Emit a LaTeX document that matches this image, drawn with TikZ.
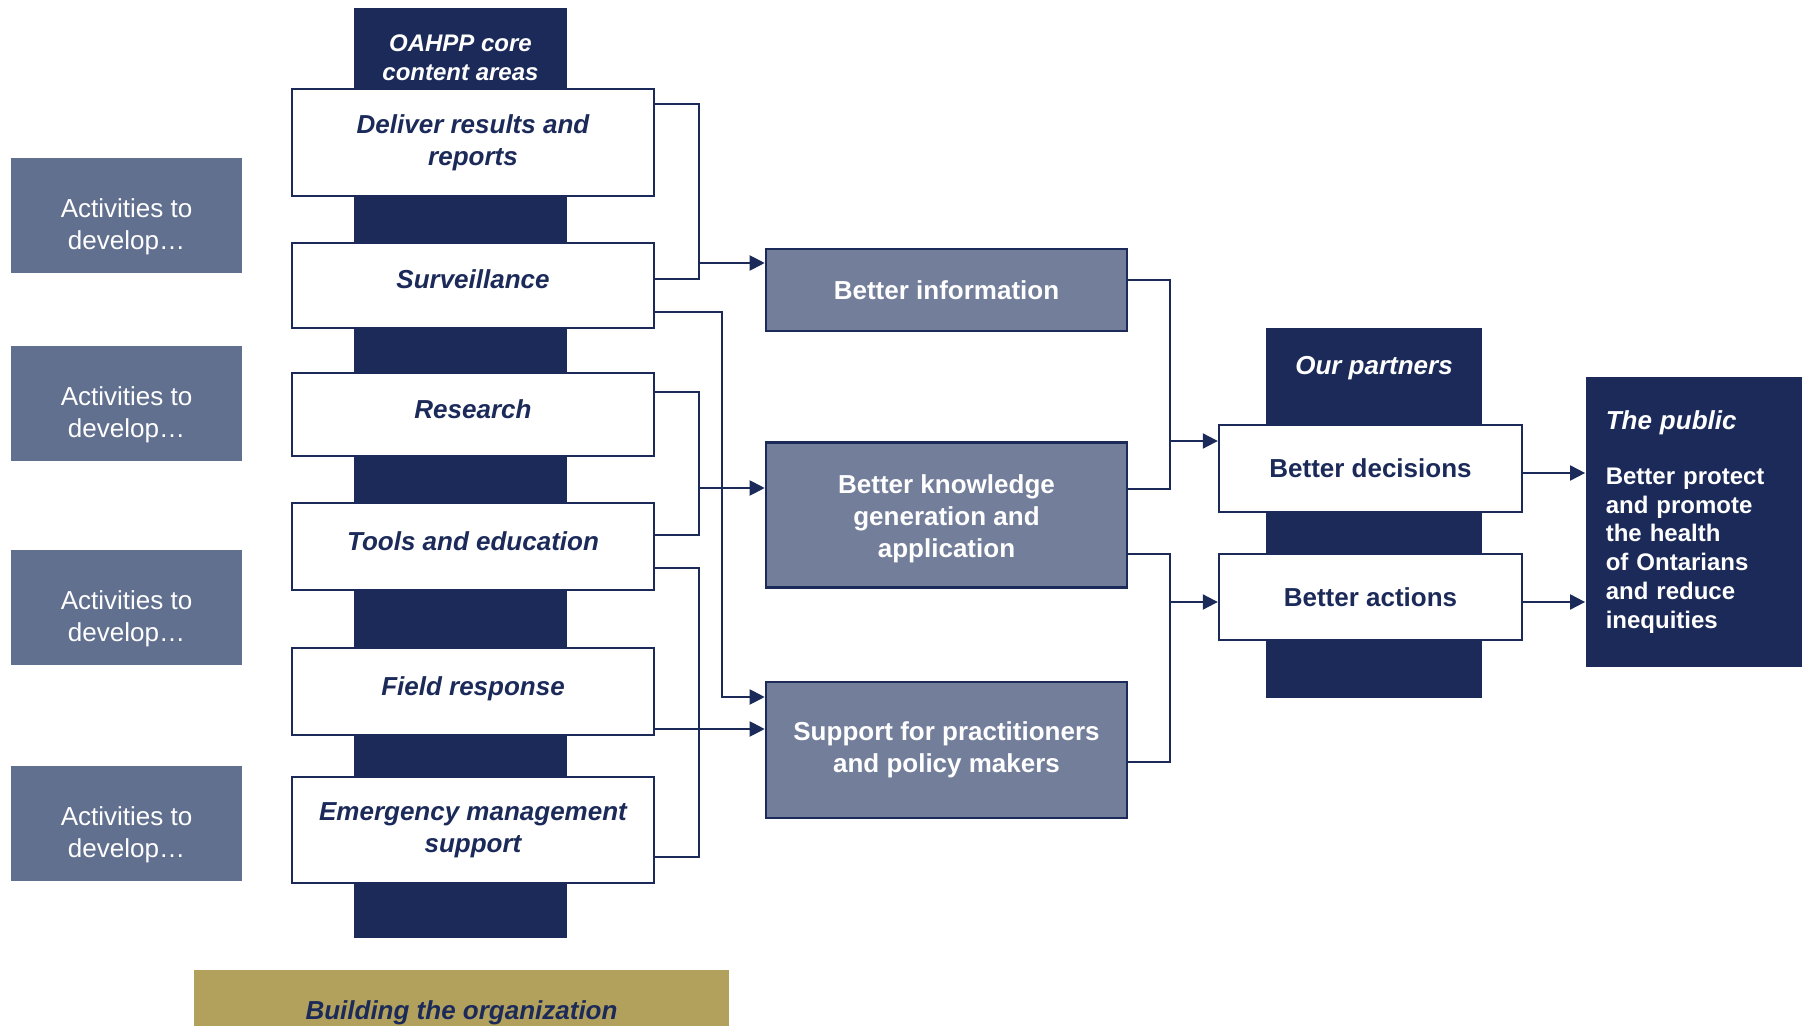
\documentclass[tikz,border=0pt]{standalone}
\usepackage{fontspec}
\setmainfont{Liberation Sans}
\usepackage{tikz}
\usetikzlibrary{arrows.meta}
\definecolor{navy}{RGB}{27,42,89}
\definecolor{slate}{RGB}{98,112,144}
\definecolor{midgray}{RGB}{115,126,155}
\definecolor{gold}{RGB}{178,161,92}
\def\activities{\rule{0pt}{21pt}Activities to\\develop…}
\tikzset{
	area/.style={draw=navy, line width=1.2pt, fill=white, text=navy, font=\fontsize{13}{16}\selectfont\bfseries\itshape, minimum width=181pt, align=center, inner sep=0pt},
	oneline/.style={text height=9.5pt, text depth=6pt},
	actbox/.style={fill=slate, text=white, font=\fontsize{13}{16}\selectfont, minimum width=115.5pt, minimum height=57.5pt, align=center, inner sep=0pt},
	outcome/.style={draw=navy, line width=1.3pt, fill=midgray, text=white, font=\fontsize{13}{16}\selectfont\bfseries, minimum width=180.5pt, align=center, inner sep=0pt},
	partner/.style={draw=navy, line width=1.2pt, fill=white, text=navy, font=\fontsize{13}{16}\selectfont\bfseries, minimum width=151.5pt, align=center, inner sep=0pt},
	hdr/.style={text=white, font=\fontsize{13}{16}\selectfont\bfseries\itshape, align=center, inner sep=0pt},
	conn/.style={draw=navy, line width=1pt},
	arr/.style={conn, -{Triangle[length=7.5pt,width=7.5pt]}}
}
\begin{document}
\begin{tikzpicture}[x=0.5pt, y=-0.5pt]
			%%%%% START %%%%%
			
			\path[use as bounding box] (0,0) rectangle (1802,1026);
			\clip (0,0) rectangle (1802,1026);
			
			\fill[navy] (354, 8) rectangle (567, 938);
			\node[hdr, font=\fontsize{12}{14.3}\selectfont\bfseries\itshape] (corehead) at (460.5, 58) {OAHPP core\\content areas};
			
			\node[actbox] (act1) at (126.5, 215.5) {\activities};
			\node[actbox] (act2) at (126.5, 403.5) {\activities};
			\node[actbox] (act3) at (126.5, 607) {\activities};
			\node[actbox] (act4) at (126.5, 823) {\activities};
			
			\node[area, minimum height=53.5pt] (deliver) at (473, 142.5) {Deliver results and\\reports};
			\node[area, oneline, minimum height=42.5pt] (surv) at (473, 285.5) {Surveillance};
			\node[area, oneline, minimum height=41.5pt] (research) at (473, 414.5) {Research};
			\node[area, oneline, minimum height=43.5pt] (tools) at (473, 546.5) {Tools and education};
			\node[area, oneline, minimum height=43.5pt] (field) at (473, 691.5) {Field response};
			\node[area, minimum height=53pt] (emerg) at (473, 830) {Emergency management\\support};
			
			\node[fill=gold, text=navy, font=\fontsize{13}{16}\selectfont\bfseries\itshape, minimum width=267.5pt, minimum height=43pt, inner sep=0pt] (building) at (461.5, 1013) {Building the organization};
			
			\node[outcome, minimum height=41pt] (info) at (946.5, 290) {Better information};
			\node[outcome, minimum height=72.5pt] (know) at (946.5, 515) {\rule{0pt}{13.5pt}Better knowledge\\generation and\\application};
			\node[outcome, minimum height=68pt] (supp) at (946.5, 750) {Support for practitioners\\and policy makers};
			
			\fill[navy] (1266, 328) rectangle (1482, 698);
			\node[hdr] (partnerhead) at (1374, 368) {Our partners};
			\node[partner, minimum height=43.5pt] (decide) at (1370.5, 468.5) {Better decisions};
			\node[partner, minimum height=43pt] (acts) at (1370.5, 597) {Better actions};
			
			\node[fill=navy, text=white, minimum width=112.25pt, minimum height=145pt, text width=92pt, inner xsep=10pt, align=left, font=\fontsize{12}{14.35}\selectfont\bfseries] (public) at (1697.75, 522) {{\fontsize{13}{16}\selectfont\itshape The public}\\[13pt]Better protect\\and promote\\the health\\of Ontarians\\and reduce\\inequities};
			
			\coordinate (busL) at (699, 0);
			\coordinate (busM) at (721.6, 0);
			\coordinate (busR) at (1169.5, 0);
			
			\draw[conn] (deliver.east |- 0,104) -| (busL |- 0,279) -- (surv.east |- 0,279);
			\draw[arr] (busL |- 0,263) -- (info.west |- 0,263);
			\draw[arr] (surv.east |- 0,312) -| (busM |- 0,697) -- (supp.west |- 0,697);
			\draw[conn] (research.east |- 0,392) -| (busL |- 0,535) -- (tools.east |- 0,535);
			\draw[arr] (busL |- 0,488) -- (know.west |- 0,488);
			\draw[conn] (tools.east |- 0,568) -| (busL |- 0,857) -- (emerg.east |- 0,857);
			\draw[arr] (field.east |- 0,729) -- (supp.west |- 0,729);
			
			\draw[conn] (info.east |- 0,280) -| (busR |- 0,489) -- (know.east |- 0,489);
			\draw[arr] (busR |- 0,441) -- (decide.west |- 0,441);
			\draw[conn] (know.east |- 0,554) -| (busR |- 0,762) -- (supp.east |- 0,762);
			\draw[arr] (busR |- 0,602) -- (acts.west |- 0,602);
			
			\draw[arr] (decide.east |- 0,473) -- (public.west |- 0,473);
			\draw[arr] (acts.east |- 0,602) -- (public.west |- 0,602);
			
			%%%%% END %%%%%
		\end{tikzpicture}
\end{document}
